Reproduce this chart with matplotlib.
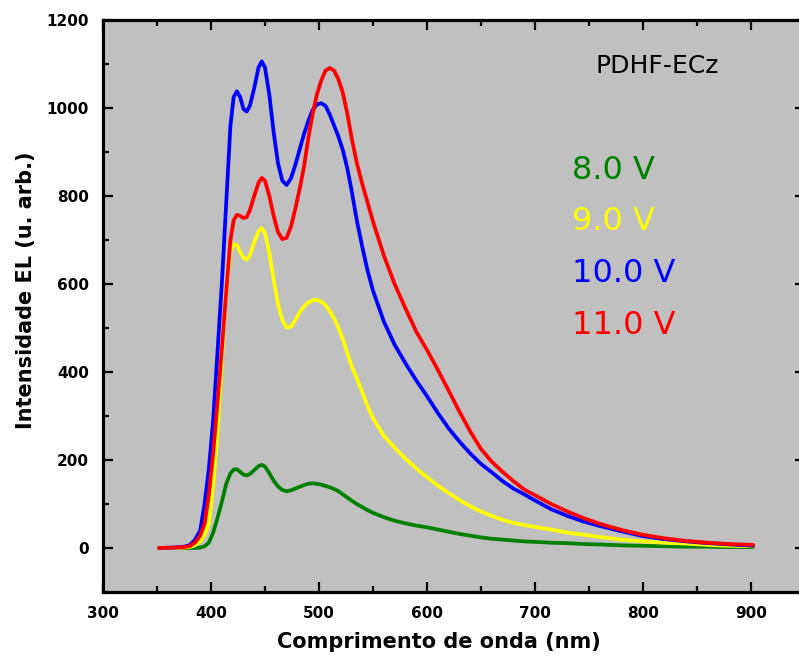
import matplotlib.pyplot as plt
from matplotlib.ticker import MultipleLocator

# comprimento de onda (nm)
wl = [352, 365, 375, 380, 385, 390, 394, 398, 402, 406, 410, 414, 418, 421, 424, 427,
      430, 433, 436, 440, 444, 447, 450, 454, 458, 462, 466, 470, 474, 478, 482, 486,
      490, 494, 498, 502, 506, 510, 514, 518, 522, 526, 530, 535, 540, 545, 550, 560,
      570, 580, 590, 600, 610, 620, 630, 640, 650, 660, 670, 680, 690, 700, 715, 730,
      745, 760, 780, 800, 820, 840, 860, 880, 902]

el_8v = [0, 0, 0, 0, 0, 1, 4, 12, 35, 68, 105, 145, 170, 178, 179, 173,
         167, 165, 168, 177, 186, 189, 185, 170, 153, 140, 132, 129, 131, 135, 139, 143,
         146, 147, 146, 144, 141, 138, 134, 129, 122, 115, 108, 100, 93, 86, 80, 70,
         62, 56, 51, 47, 42, 37, 32, 28, 24, 21, 19, 17, 15, 14, 12, 11,
         9, 8, 6, 5, 4, 3, 3, 2, 2]

el_9v = [0, 0, 1, 2, 6, 15, 30, 55, 140, 260, 420, 585, 672, 690, 689, 672,
         660, 655, 665, 695, 720, 727, 715, 670, 610, 555, 518, 501, 503, 518, 535, 549,
         558, 563, 564, 560, 552, 538, 522, 500, 475, 445, 415, 385, 355, 322, 295, 255,
         228, 203, 181, 161, 142, 125, 109, 95, 83, 73, 64, 57, 52, 48, 42, 35,
         30, 25, 19, 15, 12, 10, 7, 5, 4]

el_10v = [0, 1, 3, 6, 18, 40, 100, 180, 290, 445, 600, 780, 960, 1025, 1038, 1025,
          998, 992, 1005, 1045, 1092, 1106, 1092, 1030, 945, 875, 835, 825, 840, 870, 905, 940,
          970, 995, 1008, 1011, 1005, 985, 960, 935, 905, 865, 815, 745, 685, 630, 585, 515,
          462, 420, 381, 345, 307, 272, 242, 215, 191, 172, 152, 135, 122, 108, 88, 73,
          60, 50, 38, 27, 20, 15, 11, 8, 5]

el_11v = [0, 1, 2, 4, 12, 28, 55, 120, 215, 330, 450, 580, 700, 745, 757, 755,
          750, 752, 768, 800, 830, 841, 835, 800, 755, 718, 702, 705, 730, 770, 815, 865,
          930, 985, 1030, 1062, 1085, 1091, 1085, 1065, 1035, 990, 935, 875, 828, 785, 742, 665,
          600, 545, 492, 450, 405, 358, 310, 265, 225, 196, 173, 152, 133, 120, 100, 83,
          68, 55, 41, 30, 22, 16, 12, 9, 7]

labels = ["8.0 V", "9.0 V", "10.0 V", "11.0 V"]
colors = ["#008000", "#ffff00", "#0000ff", "#ff0000"]

fig = plt.figure(figsize=(7.99, 6.64), dpi=100)
ax = fig.add_axes([103/799, 72/664, 702/799, 572/664])
ax.set_facecolor("#c0c0c0")

for y, c in zip([el_8v, el_9v, el_10v, el_11v], colors):
    ax.plot(wl, y, color=c, lw=2.7, solid_capstyle="round", solid_joinstyle="round")

ax.set_xlim(300, 950)
ax.set_ylim(-100, 1200)
ax.xaxis.set_major_locator(MultipleLocator(100))
ax.xaxis.set_minor_locator(MultipleLocator(50))
ax.yaxis.set_major_locator(MultipleLocator(200))
ax.yaxis.set_minor_locator(MultipleLocator(100))
ax.tick_params(which="both", direction="in", top=True, right=True, width=1.6)
ax.tick_params(which="major", length=7.5, pad=10, labelsize=11)
ax.tick_params(which="minor", length=4.5)
for lab in ax.get_xticklabels() + ax.get_yticklabels():
    lab.set_fontweight("bold")
for s in ax.spines.values():
    s.set_linewidth(2.3)

ax.set_xlabel("Comprimento de onda (nm)", fontsize=15, fontweight="bold")
ax.set_ylabel("Intensidade EL (u. arb.)", fontsize=15, fontweight="bold")
ax.xaxis.set_label_coords(0.478, -0.07)
ax.yaxis.set_label_coords(-0.095, 0.528)

ax.text(595/799, 1 - 66/664, "PDHF-ECz", transform=fig.transFigure, fontsize=18,
        va="center", ha="left", color="black")
for i, (t, c) in enumerate(zip(labels, colors)):
    ax.text(572/799, 1 - (170 + 52*i)/664, t, transform=fig.transFigure, fontsize=23,
            va="center", ha="left", color=c)

fig.savefig("out.png", dpi=100)
